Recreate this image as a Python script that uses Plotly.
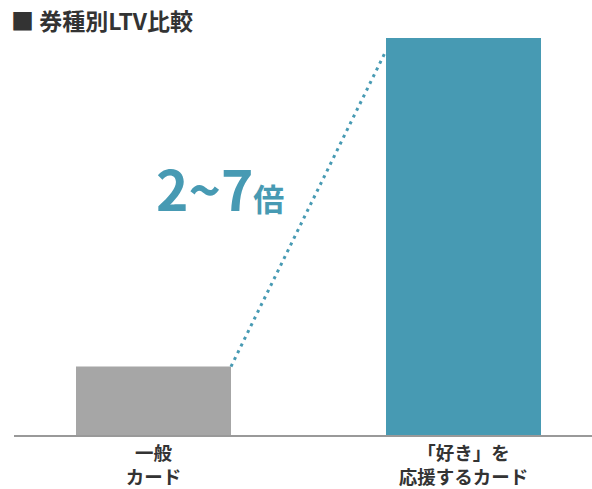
import plotly.graph_objects as go

categories = ["一般<br>カード", "「好き」を<br>応援するカード"]
ltv_values = [1.0, 5.8]
bar_colors = ["#A6A6A6", "#479AB3"]
connector_end_ratio = 0.968  # connector ends slightly below top of right bar
title_text = "■ 券種別LTV比較"
multiplier_main = "2~7"
multiplier_unit = "倍"

FONT = "Noto Sans CJK JP"
TEAL = "#479AB3"
DARK = "#333333"

xpos = list(range(len(categories)))
bar_width = 0.5

fig = go.Figure()
fig.add_trace(go.Bar(
    x=xpos, y=ltv_values, width=bar_width,
    marker=dict(color=bar_colors, line=dict(width=0)),
    hoverinfo="skip",
))

# dotted connector from top-right of left bar to the left side of right bar
fig.add_trace(go.Scatter(
    x=[xpos[0] + bar_width / 2, xpos[1] - bar_width / 2],
    y=[ltv_values[0], ltv_values[1] * connector_end_ratio],
    mode="lines",
    line=dict(color=TEAL, width=3, dash="3px,4.5px"),
    hoverinfo="skip",
))

fig.add_annotation(
    x=0.5, y=3.62, xref="x", yref="y",
    text=f"<b>{multiplier_main}<span style='font-size:31px'>{multiplier_unit}</span></b>",
    showarrow=False, xanchor="center", yanchor="middle",
    xshift=-89,
    font=dict(family=FONT, size=55, color=TEAL),
)

fig.add_annotation(
    x=0, y=1.045, xref="paper", yref="paper",
    text=f"<b>{title_text}</b>", showarrow=False,
    xanchor="left", yanchor="middle", xshift=-5,
    font=dict(family=FONT, size=23, color=DARK),
)

fig.update_layout(
    width=592, height=489,
    margin=dict(l=14, r=0, t=38, b=54),
    paper_bgcolor="white", plot_bgcolor="white",
    showlegend=False,
    xaxis=dict(
        range=[-0.45, 1.4145],
        tickvals=xpos, ticktext=[f"<b>{c}</b>" for c in categories],
        tickfont=dict(family=FONT, size=18.5, color=DARK),
        ticklabelstandoff=1, automargin=False,
        showgrid=False, zeroline=False,
        showline=True, linecolor="#999999", linewidth=1.5,
        ticks="", fixedrange=True,
    ),
    yaxis=dict(
        range=[0, ltv_values[1]], automargin=False,
        visible=False, showgrid=False, zeroline=False, fixedrange=True,
    ),
)

fig.write_html("out.html")
